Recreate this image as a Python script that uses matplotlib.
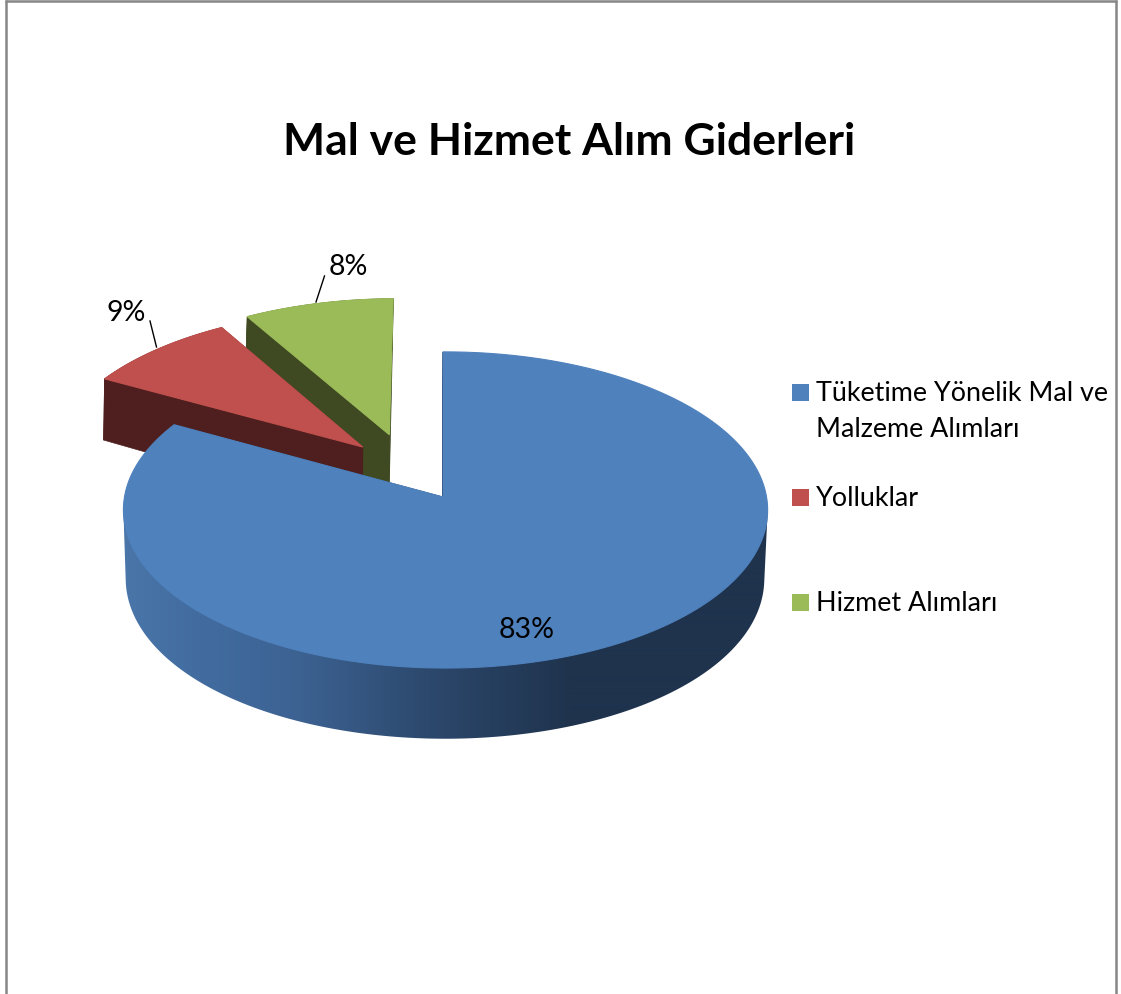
import numpy as np
import matplotlib
matplotlib.use('Agg')
import matplotlib.pyplot as plt
from matplotlib.patches import Rectangle, Polygon

# Data
categories = ['Tüketime Yönelik Mal ve\nMalzeme Alımları', 'Yolluklar', 'Hizmet Alımları']
values = [83.0, 8.6, 8.4]
percent_labels = ['83%', '9%', '8%']

top_colors = ['#4F81BD', '#C0504D', '#9BBB59']
side_colors = ['#1F3550', '#4E1F1E', '#3F4A22']
explode = [0.215, 0.21, 0.225]

# Wall shading of the big slice, by pixel x
shade_x = [120, 200, 300, 430, 570, 780]
shade_r = [74, 66, 60, 44, 31, 31]
shade_g = [118, 108, 98, 72, 51, 51]
shade_b = [170, 160, 146, 108, 77, 77]


def top_map(X, Y):
    # perspective view of the upper face, origin at the tip of the big slice
    w = 1 + 0.082 * Y - 0.0078 * X
    return 443 + 321 * X / w, 497 - 157 * Y / w


def bottom_map(X, Y):
    wx = 1 + 0.07 * Y - 0.0078 * X
    wy = 1 + 0.045 * Y - 0.0078 * X
    return 442.5 + 318.5 * X / wx, 567 - 164 * Y / wy


def direction(deg):
    rad = np.radians(deg)
    return np.sin(rad), np.cos(rad)


fig = plt.figure(figsize=(11.21, 9.94), dpi=100)
ax = fig.add_axes([0, 0, 1, 1])
ax.axis('off')

# Chart frame, open at the bottom
border = '#868686'
ax.plot([5.5, 5.5], [0, 994], color=border, lw=1.8, solid_capstyle='butt')
ax.plot([1116, 1116], [0, 994], color=border, lw=1.8, solid_capstyle='butt')
ax.plot([5, 1117], [0.5, 0.5], color=border, lw=1.8, solid_capstyle='butt')

# Slice angles, clockwise from twelve o'clock
shares = np.array(values) / sum(values) * 360
ends = np.cumsum(shares)
starts = ends - shares
mids = (starts + ends) / 2
blue_dir = direction(mids[0])

# Far slices first so the near ones cover them
for i in [2, 1, 0]:
    dx = explode[i] * (direction(mids[i])[0] - blue_dir[0])
    dy = explode[i] * (direction(mids[i])[1] - blue_dir[1])
    angles = np.linspace(starts[i], ends[i], 480 if i == 0 else 40)
    X = np.sin(np.radians(angles)) + dx
    Y = np.cos(np.radians(angles)) + dy

    tx, ty = top_map(X, Y)
    bx, by = bottom_map(X, Y)
    tip_tx, tip_ty = top_map(dx, dy)
    tip_bx, tip_by = bottom_map(dx, dy)
    base_z = 2 + 3 * (2 - i)

    # Cut faces
    for j in [0, -1]:
        ax.fill([tx[j], tip_tx, tip_bx, bx[j]], [ty[j], tip_ty, tip_by, by[j]],
                color=side_colors[i], lw=0.5, zorder=base_z)

    # Outer wall
    if i == 0:
        # only the front of the rim shows, the upper face hides the rest
        front = (angles > 95) & (angles < 265)
        wall_x = np.r_[tx[front][0], bx[front], tx[front][-1]]
        wall_y = np.r_[ty[front][0], by[front], ty[front][-1]]
        xs = np.arange(100, 800)
        grad = np.dstack([np.interp(xs, shade_x, shade_r) / 255,
                          np.interp(xs, shade_x, shade_g) / 255,
                          np.interp(xs, shade_x, shade_b) / 255])
        wall = Polygon(np.c_[wall_x, wall_y], closed=True, transform=ax.transData,
                       facecolor='none', edgecolor='none')
        ax.add_patch(wall)
        im = ax.imshow(grad, extent=(100, 800, 760, 400), aspect='auto',
                       interpolation='bilinear', zorder=base_z + 1)
        im.set_clip_path(wall)
    else:
        ax.fill(np.r_[tx, bx[::-1]], np.r_[ty, by[::-1]], color=side_colors[i], lw=0.5,
                zorder=base_z + 1)

    # Upper face
    ax.fill(np.r_[tip_tx, tx], np.r_[tip_ty, ty], color=top_colors[i], lw=0.8,
            zorder=base_z + 2)

# Title
ax.text(569, 155, 'Mal ve Hizmet Alım Giderleri', fontsize=32, fontweight='bold',
        family='Lato', ha='center', va='baseline', color='black')

# Value labels and leader lines
ax.text(527, 638, percent_labels[0], fontsize=20.5, family='Lato', ha='center', va='baseline', zorder=20)
ax.text(126, 321, percent_labels[1], fontsize=20.5, family='Lato', ha='center', va='baseline', zorder=20)
ax.text(348, 275, percent_labels[2], fontsize=20.5, family='Lato', ha='center', va='baseline', zorder=20)
ax.plot([150, 156.5], [321, 347], color='black', lw=1, zorder=20)
ax.plot([324.5, 316], [276, 302], color='black', lw=1, zorder=20)

# Legend
legend_y = [384, 489, 594]
for i in range(len(categories)):
    ax.add_patch(Rectangle((792, legend_y[i]), 17, 17, color=top_colors[i], lw=0))
    lines = categories[i].split('\n')
    for k, line in enumerate(lines):
        ax.text(816, legend_y[i] + 17 + 36 * k, line, fontsize=19.4, family='Lato',
                ha='left', va='baseline', color='black')

ax.set_xlim(0, 1121)
ax.set_ylim(994, 0)
plt.savefig('out.png', dpi=100)
